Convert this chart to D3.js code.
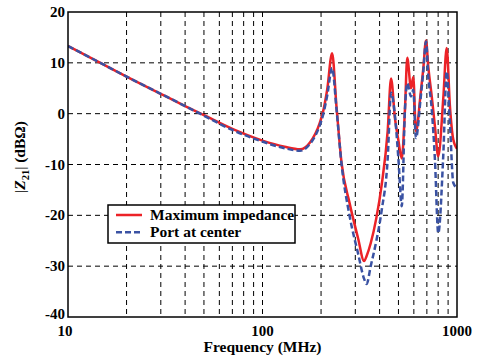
<!DOCTYPE html>
<html>
<head>
<meta charset="utf-8">
<script src="https://cdn.jsdelivr.net/npm/d3@7"></script>
<style>
    body { margin: 0; background: #fff; }
    svg { display: block; }
    .tick-label { font-family: "Liberation Serif", "Times New Roman", serif; font-weight: bold; font-size: 15px; fill: #000; }
    .axis-title { font-family: "Liberation Serif", "Times New Roman", serif; font-weight: bold; font-size: 15.5px; fill: #000; }
    .legend-label { font-family: "Liberation Serif", "Times New Roman", serif; font-weight: bold; font-size: 15.5px; fill: #000; }
</style>
</head>
<body>
<svg id="chart" width="478" height="359"></svg>
<script>
// Data
const FREQS = [10, 15, 20, 30, 40, 50, 70, 100, 130, 156, 175, 197, 205, 215, 228, 240, 255, 280, 310, 333, 343,
    360, 385, 410, 440, 458, 480, 500, 520, 540, 555, 580, 596, 615, 650, 670, 693, 712, 741, 770, 801,
    850, 885, 920, 957, 1000];
const MAX_IMPEDANCE = [13.3, 9.8, 7.3, 3.9, 1.5, -0.3, -3.0, -5.3, -6.5, -7.0, -5.7, -1.8, 0.45, 4.7, 11.9, 1.5, -9.7, -17.5, -24.5, -29, -28,
    -25.5, -20.5, -14, -3.5, 6.9, -1, -5.3, -8.8, 0.8, 11, 5, 7.2, -3.5, 3.9, 8.6, 14.4, 9.2, 3.5, -2.5, -8.4,
    3, 12.9, 1.4, -5.1, -6.9];
const PORT_CENTER = [13.3, 9.8, 7.3, 3.9, 1.5, -0.4, -3.2, -5.5, -6.8, -7.3, -6, -2.3, -0.2, 3.5, 9, 1, -10, -20, -27.5, -32.5, -33.5,
    -30, -25, -19, -9, 4.1, -0.5, -9, -18.2, 0.8, 6, 3.4, 4.7, -4.8, 3, 8, 14.2, 7.3, 1, -9, -23.5,
    -8.2, 8.3, -2, -13.6, -14.6];

const X_TICKS = [10, 100, 1000];
const X_GRID = [20, 30, 40, 50, 60, 70, 80, 90, 100, 200, 300, 400, 500, 600, 700, 800, 900];
const Y_TICKS = [-40, -30, -20, -10, 0, 10, 20];
const Y_GRID = [-30, -20, -10, 0, 10];

const SERIES = [
    { name: "Maximum impedance", values: MAX_IMPEDANCE, color: "#ec2227", dash: null },
    { name: "Port at center", values: PORT_CENTER, color: "#3a52a3", dash: "6,3" }
];

const svg = d3.select("#chart");

const plot = { left: 68, right: 457, top: 12, bottom: 317 };

const x = d3.scaleLog().domain([10, 1000]).range([plot.left, plot.right]);
const y = d3.scaleLinear().domain([-40, 20]).range([plot.bottom, plot.top]);

// Grid
svg.append("g")
    .selectAll("line")
    .data(X_GRID)
    .enter()
    .append("line")
    .attr("x1", (d) => x(d)).attr("x2", (d) => x(d))
    .attr("y1", plot.top).attr("y2", plot.bottom)
    .attr("stroke", "#000")
    .attr("stroke-width", 1)
    .attr("stroke-dasharray", "5,4");

svg.append("g")
    .selectAll("line")
    .data(Y_GRID)
    .enter()
    .append("line")
    .attr("x1", plot.left).attr("x2", plot.right)
    .attr("y1", (d) => y(d)).attr("y2", (d) => y(d))
    .attr("stroke", "#000")
    .attr("stroke-width", 1)
    .attr("stroke-dasharray", "5,4");

// Curves
const lineGen = (values) => d3.line()
    .x((d, i) => x(FREQS[i]))
    .y((d) => y(d))
    .curve(d3.curveMonotoneX)(values);

svg.append("defs").append("clipPath").attr("id", "plot-clip")
    .append("rect")
    .attr("x", plot.left).attr("y", plot.top)
    .attr("width", plot.right - plot.left).attr("height", plot.bottom - plot.top);

SERIES.forEach((s) => {
    svg.append("path")
        .attr("d", lineGen(s.values))
        .attr("fill", "none")
        .attr("stroke", s.color)
        .attr("stroke-width", 2.5)
        .attr("stroke-dasharray", s.dash)
        .attr("clip-path", "url(#plot-clip)");
});

// Frame
svg.append("rect")
    .attr("x", plot.left).attr("y", plot.top)
    .attr("width", plot.right - plot.left).attr("height", plot.bottom - plot.top)
    .attr("fill", "none")
    .attr("stroke", "#000")
    .attr("stroke-width", 1.5);

// Tick labels (-40 and 10 share the corner)
svg.append("g")
    .selectAll("text")
    .data(Y_TICKS)
    .enter()
    .append("text")
    .classed("tick-label", true)
    .attr("x", plot.left - 3)
    .attr("y", (d) => d === -40 ? y(d) + 1.5 : y(d) + 5)
    .attr("text-anchor", "end")
    .text((d) => d);

svg.append("g")
    .selectAll("text")
    .data(X_TICKS)
    .enter()
    .append("text")
    .classed("tick-label", true)
    .attr("x", (d) => d === 10 ? x(d) - 3 : x(d))
    .attr("y", plot.bottom + 19)
    .attr("text-anchor", "middle")
    .text((d) => d);

// Axis titles
svg.append("text")
    .classed("axis-title", true)
    .attr("x", (plot.left + plot.right) / 2)
    .attr("y", 352)
    .attr("text-anchor", "middle")
    .text("Frequency (MHz)");

const yTitle = svg.append("text")
    .classed("axis-title", true)
    .attr("transform", "translate(25 157) rotate(-90)")
    .attr("text-anchor", "middle");
yTitle.append("tspan").style("font-weight", "normal").text("|");
yTitle.append("tspan").style("font-style", "italic").text("Z");
yTitle.append("tspan").attr("dy", 4).style("font-size", "10.5px").text("21");
yTitle.append("tspan").attr("dy", -4).style("font-weight", "normal").text("|");
yTitle.append("tspan").text(" (dBΩ)");

// Legend
const legend = svg.append("g").attr("transform", "translate(108 205)");
legend.append("rect")
    .attr("width", 187).attr("height", 38)
    .attr("fill", "#fff")
    .attr("stroke", "#000")
    .attr("stroke-width", 1.5);

SERIES.forEach((s, i) => {
    const rowY = 10 + i * 17.3;
    legend.append("line")
        .attr("x1", 8).attr("x2", 34)
        .attr("y1", rowY).attr("y2", rowY)
        .attr("stroke", s.color)
        .attr("stroke-width", 2.5)
        .attr("stroke-dasharray", s.dash);
    legend.append("text")
        .classed("legend-label", true)
        .attr("x", 42)
        .attr("y", rowY + 5)
        .text(s.name);
});
</script>
</body>
</html>
